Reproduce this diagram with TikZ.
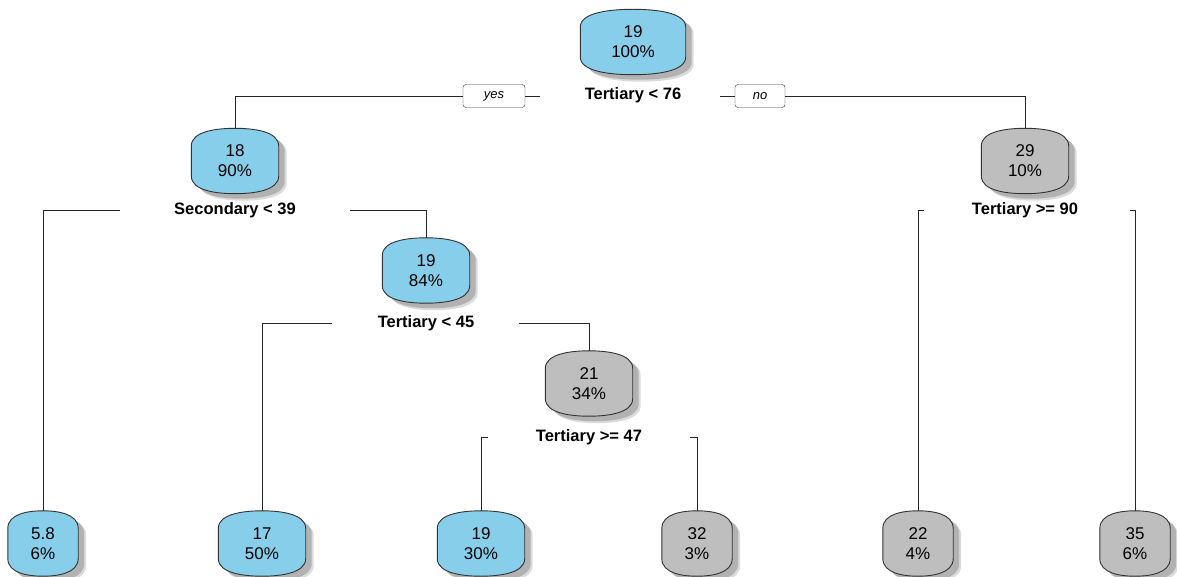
\documentclass[tikz,border=0pt]{standalone}
\usepackage{fontspec}
\setmainfont{Liberation Sans}
\usetikzlibrary{backgrounds,calc}

\definecolor{fitblue}{HTML}{87CEEB}
\definecolor{fitgray}{HTML}{BEBEBE}
\definecolor{rimgray}{HTML}{333333}

\tikzset{
  tnode/.style={minimum height=65pt, minimum width=#1, inner sep=0pt, align=center,
    font=\fontsize{17}{20}\selectfont},
  split/.style={font=\bfseries\fontsize{16.5}{19}\selectfont},
  ans/.style={draw=rimgray, rounded corners=3pt, minimum width=#1, minimum height=23pt,
    inner sep=0pt, font=\itshape\fontsize{13}{15}\selectfont},
  wire/.style={draw=black!85, line width=0.9pt},
}

% barrel outline round a node
\newcommand{\barrel}[1]{($(#1.west)+(0pt,-15pt)$) -- ($(#1.west)+(0pt,15pt)$)
  .. controls ($(#1.west)+(0pt,30pt)$) and ($(#1.north west)!0.3!(#1.north east)$) .. (#1.north)
  .. controls ($(#1.north east)!0.3!(#1.north west)$) and ($(#1.east)+(0pt,30pt)$) .. ($(#1.east)+(0pt,15pt)$)
  -- ($(#1.east)+(0pt,-15pt)$)
  .. controls ($(#1.east)+(0pt,-30pt)$) and ($(#1.south east)!0.3!(#1.south west)$) .. (#1.south)
  .. controls ($(#1.south west)!0.3!(#1.south east)$) and ($(#1.west)+(0pt,-30pt)$) .. cycle}

\begin{document}
\begin{tikzpicture}[x=1pt, y=-1pt]
    \useasboundingbox (0,0) rectangle (1177,577);

    % inner nodes
    \node[tnode=105pt] (root) at (633,42) {19\\100\%};
    \node[tnode=87pt] (n18) at (235,161) {18\\90\%};
    \node[tnode=87pt] (n29) at (1025,161) {29\\10\%};
    \node[tnode=87pt] (n19) at (426,270.5) {19\\84\%};
    \node[tnode=87pt] (n21) at (589,383.5) {21\\34\%};

    % leaves
    \node[tnode=70pt] (l1) at (43,543.5) {5.8\\6\%};
    \node[tnode=87pt] (l2) at (262,543.5) {17\\50\%};
    \node[tnode=87pt] (l3) at (481,543.5) {19\\30\%};
    \node[tnode=70pt] (l4) at (697,543.5) {32\\3\%};
    \node[tnode=70pt] (l5) at (918,543.5) {22\\4\%};
    \node[tnode=70pt] (l6) at (1135,543.5) {35\\6\%};

    % split labels
    \node[split] (s1) at (633,95) {Tertiary < 76};
    \node[split] (s2) at (235,210) {Secondary < 39};
    \node[split] (s3) at (426,323) {Tertiary < 45};
    \node[split] (s4) at (589,437) {Tertiary >= 47};
    \node[split] (s5) at (1025,210) {Tertiary >= 90};

    \node[ans=62pt] (yes) at (494,96) {yes};
    \node[ans=50pt] (no) at (760,96) {no};

    \coordinate (s1l) at (540,96);
    \coordinate (s1r) at (720,96);
    \coordinate (s2l) at (120,210);
    \coordinate (s2r) at (350,210);
    \coordinate (s3l) at (332,323);
    \coordinate (s3r) at (519,323);
    \coordinate (s4l) at (488,437);
    \coordinate (s4r) at (690,437);
    \coordinate (s5l) at (924,210);
    \coordinate (s5r) at (1130,210);

    \draw[wire] (s1l) -- (yes.east);
    \draw[wire] (yes.west) -| (n18.north);
    \draw[wire] (s1r) -- (no.west);
    \draw[wire] (no.east) -| (n29.north);
    \draw[wire] (s2l) -| (l1.north);
    \draw[wire] (s2r) -| (n19.north);
    \draw[wire] (s3l) -| (l2.north);
    \draw[wire] (s3r) -| (n21.north);
    \draw[wire] (s4l) -| (l3.north);
    \draw[wire] (s4r) -| (l4.north);
    \draw[wire] (s5l) -| (l5.north);
    \draw[wire] (s5r) -| (l6.north);

    % boxes with shadow, behind the text
    \begin{scope}[on background layer]
    \foreach \n/\c in {root/fitblue, n18/fitblue, n29/fitgray, n19/fitblue, n21/fitgray,
        l1/fitblue, l2/fitblue, l3/fitblue, l4/fitgray, l5/fitgray, l6/fitgray}{
      \fill[black!14, transform canvas={shift={(8pt,-7pt)}}] \barrel{\n};
      \fill[black!30, transform canvas={shift={(6pt,-5pt)}}] \barrel{\n};
      \filldraw[fill=\c, draw=rimgray, line width=0.9pt] \barrel{\n};
    }
    \end{scope}
\end{tikzpicture}
\end{document}
